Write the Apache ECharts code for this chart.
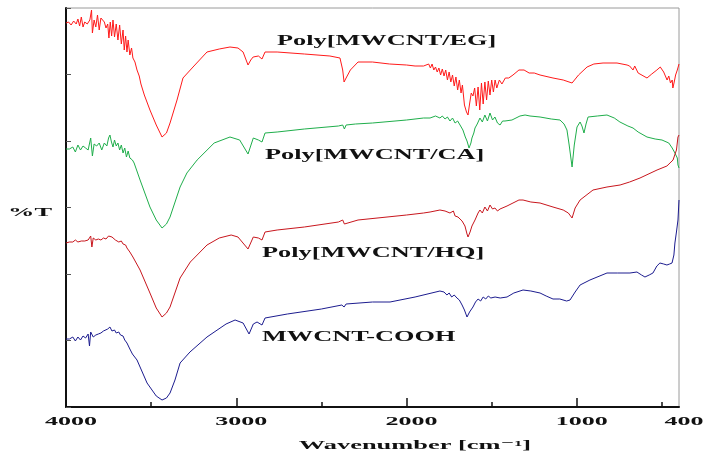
<!DOCTYPE html>
<html><head><meta charset="utf-8">
<script src="https://cdn.jsdelivr.net/npm/echarts@6/dist/echarts.min.js"></script>
<style>html,body{margin:0;padding:0;background:#fff}#c{width:704px;height:455px}</style>
</head><body><div id="c"></div><script>
// Wavenumbers (cm-1) and transmittance (arbitrary offset units) for each spectrum
const egWn=[4000,3985,3970,3955,3940,3930,3920,3910,3900,3890,3875,3860,3850,3845,3835,3825,3815,3805,3795,3785,3775,3765,3755,3748,3740,3732,3724,3715,3705,3695,3685,3675,3665,3658,3650,3642,3635,3625,3615,3607,3595,3583,3570,3560,3540,3507,3470,3436,3410,3389,3348,3313,3254,3172,3100,3037,2990,2960,2931,2915,2901,2870,2849,2831,2760,2600,2450,2391,2375,2367,2355,2344,2330,2285,2200,2100,2000,
1950,1900,1870,1860,1850,1840,1830,1820,1810,1800,1790,1780,1770,1760,1750,1740,1730,1720,1710,1700,1690,1680,1672,1660,1648,1639,1630,1620,1610,1600,1590,1580,1570,1560,1550,1540,1530,1520,1510,1500,1490,1480,1470,1455,1440,1420,1400,1375,1340,1310,1280,1250,1216,1140,1080,1028,990,940,900,846,764,705,690,670,660,640,588,560,530,510,500,490,480,470,460,450,440,436,428,420,410,400];
const egT=[384,385,382,386,383,388,381,390,380,385,383,387,397,374,387,380,392,377,389,391,385,379,383,369,385,371,387,370,383,367,382,363,377,357,371,355,367,352,359,349,345,337,331,323,312,297,282,270,274,284,307,329,340,355,358,360,359,355,342,347,350,351,348,355,355,353,351,349,337,325,329,330,337,345,345,343,342,
341,341,343,339,343,337,340,335,339,332,338,331,337,327,335,325,332,321,330,317,327,314,322,302,295,292,303,314,311,319,301,320,297,324,303,325,307,326,312,327,315,327,319,327,323,329,329,332,337,337,334,334,332,329,327,324,332,340,343,344,344,342,341,337,341,334,329,333,337,340,339,335,337,327,331,324,327,319,325,332,337,343];

const caWn=[4000,3980,3960,3945,3930,3915,3900,3885,3870,3855,3845,3835,3820,3805,3790,3775,3760,3750,3742,3733,3724,3715,3705,3695,3685,3675,3665,3655,3645,3635,3625,3610,3600,3565,3507,3470,3436,3410,3389,3330,3290,3230,3130,3037,2980,2931,2900,2870,2849,2831,2760,2600,2400,2375,2365,2355,2300,2200,2000,1900,1862,1830,1804,1790,1774,1760,1745,1730,1715,1700,1686,1669,1655,1645,1633,1622,1616,1605,1598,1585,1569,1555,1540,1525,1510,1495,1481,1466,1451,1436,1422,1381,1334,1304,1275,1216,1150,1099,1075,1058,1045,1028,1015,999,981,970,958,946,934,880,823,780,747,700,670,640,588,540,500,460,440,424,410,406,400];
const caT=[258,258,260,255,262,257,261,259,257,269,251,263,261,264,257,264,261,269,272,265,260,267,261,264,257,262,254,259,250,256,249,247,244,227,200,187,179,183,190,220,234,247,264,270,267,253,269,267,265,274,275,278,281,282,278,282,283,284,287,289,289,291,289,291,288,290,286,289,284,286,282,277,270,266,259,264,269,274,279,283,289,285,292,286,294,287,290,284,282,286,286,287,291,292,291,290,288,287,283,277,262,240,262,280,285,281,274,283,290,291,292,289,285,281,279,275,270,268,267,264,259,254,249,242,239];

const hqWn=[4000,3980,3960,3945,3930,3910,3890,3870,3855,3848,3840,3825,3810,3795,3780,3765,3750,3742,3730,3720,3710,3700,3690,3675,3665,3650,3642,3625,3607,3565,3507,3470,3436,3410,3389,3330,3270,3172,3100,3030,2990,2931,2900,2870,2849,2831,2760,2600,2400,2375,2365,2355,2285,2000,1900,1862,1804,1774,1745,1725,1715,1698,1686,1674,1657,1645,1639,1627,1616,1598,1580,1569,1555,1540,1525,1510,1495,1481,1466,1451,1440,1410,1375,1340,1316,1270,1216,1140,1080,1050,1028,1010,981,905,823,746,690,629,529,471,435,415,406,400];
const hqT=[164,165,165,167,165,166,166,167,171,160,169,167,168,167,169,168,171,173,170,169,167,168,165,166,163,162,159,155,150,137,114,99,90,94,100,129,145,162,169,172,170,158,170,169,167,175,177,180,185,187,183,185,187,192,194,195,197,196,194,196,191,190,188,186,181,173,170,175,181,187,194,197,194,200,196,202,198,199,196,198,200,201,204,207,207,205,204,200,197,194,189,199,207,217,220,222,225,229,237,241,247,257,270,272];

const coohWn=[4000,3980,3960,3945,3930,3915,3900,3885,3870,3862,3855,3840,3825,3810,3795,3780,3770,3755,3742,3730,3715,3705,3690,3680,3665,3655,3642,3625,3610,3583,3524,3470,3436,3410,3389,3360,3330,3272,3172,3060,3007,2960,2925,2900,2878,2849,2831,2700,2500,2380,2367,2355,2200,2097,1950,1804,1780,1763,1750,1735,1720,1704,1690,1674,1660,1645,1630,1610,1595,1580,1565,1550,1535,1520,1505,1480,1450,1410,1370,1316,1270,1216,1180,1140,1100,1060,1040,1010,981,923,823,760,688,647,620,600,575,553,530,512,490,471,455,441,430,424,415,406,400];
const coohT=[68,68,70,66,70,67,71,69,73,61,75,70,72,73,74,76,74,78,80,76,77,74,75,72,71,67,64,58,53,47,24,11,7,9,14,27,44,55,70,83,87,84,73,83,85,82,89,93,98,102,100,103,105,105,110,116,115,112,114,110,112,109,107,102,97,90,95,100,105,108,106,110,108,111,109,110,109,110,114,117,116,114,111,108,108,106,107,115,122,127,134,134,134,135,132,130,132,134,141,144,143,142,143,144,152,164,175,187,207];

const seriesNames=['Poly[MWCNT/EG]','Poly[MWCNT/CA]','Poly[MWCNT/HQ]','MWCNT-COOH'];
const seriesColors=['#ff1a1a','#1fae4b','#c8161d','#1c1c8f'];
const xTickLabels=[4000,3000,2000,1000,400];
const xMajorTicks=[4000,3000,2000,1000];
const xMinorTicks=[3500,2500,1500,500];
const xTitle='Wavenumber [cm\u207B\u00B9]';
const yTitle='%T';

function zip(a,b){const n=Math.min(a.length,b.length);const r=[];for(let i=0;i<n;i++)r.push([a[i],b[i]]);return r;}
const datasets=[zip(egWn,egT),zip(caWn,caT),zip(hqWn,hqT),zip(coohWn,coohT)];

// x-axis tick marks as short segments in data coordinates (inside the frame)
const tickSegs=[].concat(
  xMajorTicks.map(v=>[{coord:[v,0]},{coord:[v,9]}]),
  xMinorTicks.map(v=>[{coord:[v,0]},{coord:[v,5]}])
);

const chart=echarts.init(document.getElementById('c'),null,{renderer:'canvas'});
const series=datasets.map((d,i)=>({name:seriesNames[i],type:'line',data:d,showSymbol:false,symbol:'none',
  lineStyle:{color:seriesColors[i],width:1},itemStyle:{color:seriesColors[i]},z:2+i}));
series[3].markLine={silent:true,symbol:['none','none'],label:{show:false},animation:false,
  lineStyle:{color:'#111',width:1.5,type:'solid'},emphasis:{disabled:true},data:tickSegs};
chart.setOption({
  animation:false,
  backgroundColor:'#fff',
  grid:{left:66,right:25,top:8,bottom:48,show:true,borderColor:'#9a9a9a',borderWidth:1},
  xAxis:{type:'value',inverse:true,min:400,max:4000,splitNumber:4,position:'bottom',splitLine:{show:false},
    axisLine:{show:true,lineStyle:{color:'#111',width:2}},
    axisTick:{show:false},axisLabel:{show:false}},
  yAxis:{type:'value',min:0,max:399,interval:66.5,splitLine:{show:false},axisLabel:{show:false},
    axisLine:{show:true,lineStyle:{color:'#111',width:2}},
    axisTick:{show:true,inside:true,length:5,lineStyle:{color:'#555'}}},
  series:series
});

const font12='bold 12px "Liberation Serif", "DejaVu Serif", serif';
const font14='bold 14px "Liberation Serif", "DejaVu Serif", serif';
const axisY=chart.convertToPixel({yAxisIndex:0},0);
const g=[];
xTickLabels.forEach(v=>{
  const px=chart.convertToPixel({xAxisIndex:0},v);
  g.push({type:'text',x:px+5,y:axisY+15,scaleX:2.17,silent:true,
    style:{text:String(v),font:font12,textAlign:'center',textVerticalAlign:'middle',fill:'#111'}});
});
g.push({type:'text',x:415,y:446,scaleX:2.2,silent:true,
  style:{text:xTitle,font:font12,textAlign:'center',textVerticalAlign:'middle',fill:'#111'}});
g.push({type:'text',x:30,y:213,scaleX:2.2,silent:true,
  style:{text:yTitle,font:font12,textAlign:'center',textVerticalAlign:'middle',fill:'#111'}});
const labelPos=[[277,41],[265,155],[262,253],[262,337]];
seriesNames.forEach((n,i)=>{
  g.push({type:'text',x:labelPos[i][0],y:labelPos[i][1],scaleX:1.88,silent:true,
    style:{text:n,font:font14,textAlign:'left',textVerticalAlign:'middle',fill:'#111'}});
});
chart.setOption({graphic:g});
</script></body></html>
